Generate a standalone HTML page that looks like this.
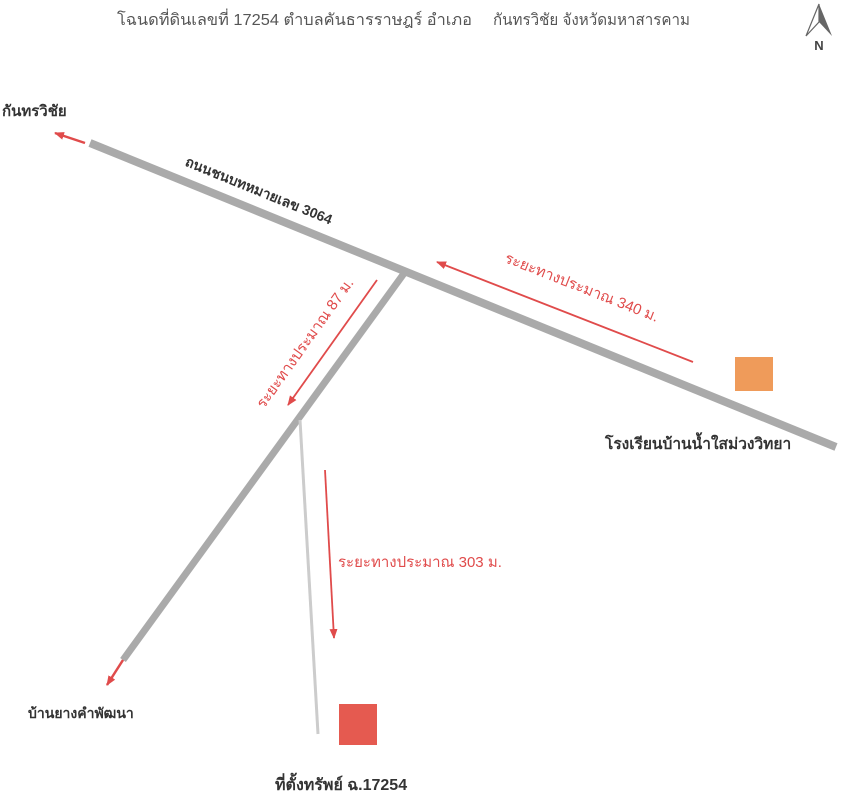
<!DOCTYPE html>
<html><head><meta charset="utf-8"><style>
html,body{margin:0;padding:0;background:#fff;width:868px;height:800px;overflow:hidden}
svg{display:block}
text{font-family:"Liberation Sans","Noto Sans CJK SC","WenQuanYi Zen Hei",sans-serif}
</style></head><body>
<svg width="868" height="800" viewBox="0 0 868 800" xmlns="http://www.w3.org/2000/svg">
<defs>
<marker id="ah" markerWidth="10" markerHeight="8" refX="9" refY="4" orient="auto" markerUnits="userSpaceOnUse">
<path d="M0,0 L10,4 L0,8 Z" fill="#e04b4b"/>
</marker>
</defs>
<text x="117" y="25" font-size="16" fill="#555" textLength="355" lengthAdjust="spacingAndGlyphs">โฉนดที่ดินเลขที่ 17254  ตำบลคันธารราษฎร์ อำเภอ</text>
<text x="493" y="25" font-size="16" fill="#555" textLength="197" lengthAdjust="spacingAndGlyphs">กันทรวิชัย จังหวัดมหาสารคาม</text>
<!-- north -->
<path d="M819,4 L806,36 L819,22 Z" fill="none" stroke="#666" stroke-width="1.2"/>
<path d="M819,4 L832,36 L819,22 Z" fill="#666"/>
<text x="819" y="50" font-size="13" font-weight="bold" fill="#444" text-anchor="middle">N</text>

<!-- roads -->
<line x1="90" y1="143" x2="836" y2="447" stroke="#aaa" stroke-width="8"/>
<line x1="405" y1="272" x2="123" y2="660" stroke="#aaa" stroke-width="7"/>
<line x1="300" y1="420" x2="318" y2="734" stroke="#ccc" stroke-width="3"/>

<!-- arrows -->
<line x1="85" y1="143" x2="55" y2="133" stroke="#e04b4b" stroke-width="2.5" marker-end="url(#ah)"/>
<line x1="123" y1="660" x2="107" y2="685" stroke="#e04b4b" stroke-width="2.5" marker-end="url(#ah)"/>
<line x1="693" y1="362" x2="437" y2="262" stroke="#e04b4b" stroke-width="1.8" marker-end="url(#ah)"/>
<line x1="377" y1="280" x2="288" y2="405" stroke="#e04b4b" stroke-width="1.8" marker-end="url(#ah)"/>
<line x1="325" y1="470" x2="334" y2="638" stroke="#e04b4b" stroke-width="1.8" marker-end="url(#ah)"/>

<!-- squares -->
<rect x="735" y="357" width="38" height="34" fill="#ef9b5a"/>
<rect x="339" y="704" width="38" height="41" fill="#e55a50"/>

<!-- labels -->
<text x="2" y="116" font-size="15" font-weight="bold" fill="#333">กันทรวิชัย</text>
<text transform="translate(257,195) rotate(22.2)" font-size="14" font-weight="bold" fill="#333" text-anchor="middle">ถนนชนบทหมายเลข 3064</text>
<text transform="translate(580,292) rotate(21.5)" font-size="15" fill="#e04b4b" text-anchor="middle">ระยะทางประมาณ 340 ม.</text>
<text transform="translate(309,346) rotate(-54.5)" font-size="15" fill="#e04b4b" text-anchor="middle">ระยะทางประมาณ 87 ม.</text>
<text x="338" y="567" font-size="15" fill="#e04b4b">ระยะทางประมาณ 303 ม.</text>
<text x="605" y="449" font-size="15.5" font-weight="bold" fill="#333">โรงเรียนบ้านน้ำใสม่วงวิทยา</text>
<text x="28" y="718" font-size="14" font-weight="bold" fill="#333">บ้านยางคำพัฒนา</text>
<text x="275" y="790" font-size="16" font-weight="bold" fill="#333">ที่ตั้งทรัพย์ ฉ.17254</text>
</svg>
</body></html>
